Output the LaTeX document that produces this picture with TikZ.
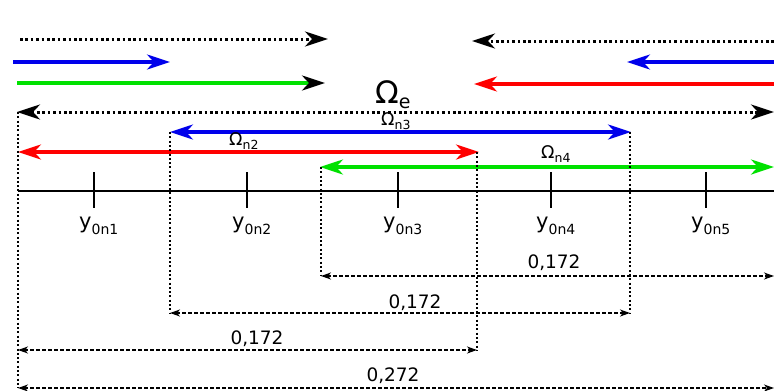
\documentclass[tikz,border=0pt]{standalone}
\usepackage{fontspec}
\setmainfont{DejaVu Sans}
\usetikzlibrary{arrows.meta}
\definecolor{cgreen}{RGB}{0,225,0}
\definecolor{cblue}{RGB}{0,0,235}
\definecolor{cred}{RGB}{255,0,0}
\tikzset{
  bigtip/.tip={Stealth[length=23pt,width=15pt,inset=7pt]},
  smalltip/.tip={Stealth[length=10pt,width=7pt,inset=3pt]},
  dotrow/.style={line width=3pt, dash pattern=on 2.6pt off 2.8pt},
  colrow/.style={line width=3.2pt},
  guide/.style={line width=1.6pt, dash pattern=on 2pt off 2.3pt},
  dimline/.style={line width=1.6pt, dash pattern=on 3.5pt off 2.5pt, {smalltip}-{smalltip}},
  axisline/.style={line width=1.8pt},
  tickmark/.style={line width=2.2pt},
  lbl/.style={inner sep=0pt, anchor=base west},
  dimlbl/.style={inner sep=0pt, anchor=base, font=\fontsize{18.5}{18}\selectfont},
}
\newcommand\bigomega[1]{{\fontsize{31}{31}\selectfont Ω}\raisebox{-5pt}{\fontsize{19}{19}\selectfont #1}}
\newcommand\smallomega[1]{{\fontsize{17.5}{17}\selectfont Ω}\raisebox{-4pt}{\fontsize{12.5}{12}\selectfont #1}}
\newcommand\ylab[1]{{\fontsize{21}{21}\selectfont y}\raisebox{-6pt}{\fontsize{14}{14}\selectfont #1}}
\begin{document}
\begin{tikzpicture}[x=1pt,y=-1pt]
\useasboundingbox (0,0) rectangle (774,391);
\fill[white] (0,0) rectangle (774,391);
% top single arrows
\coordinate (r1a) at (20,39);  \coordinate (r1b) at (328,39);
\coordinate (r1c) at (774,41); \coordinate (r1d) at (472,41);
\coordinate (r2a) at (13,62);  \coordinate (r2b) at (170,62);
\coordinate (r2c) at (774,62); \coordinate (r2d) at (627,62);
\coordinate (r3a) at (17,83);  \coordinate (r3b) at (325,83);
\coordinate (r3c) at (774,84); \coordinate (r3d) at (474,84);
\draw[dotrow,-{bigtip}] (r1a) -- (r1b);
\draw[dotrow,-{bigtip}] (r1c) -- (r1d);
\draw[colrow,cblue,-{bigtip}] (r2a) -- (r2b);
\draw[colrow,cblue,-{bigtip}] (r2c) -- (r2d);
\draw[colrow,cgreen,-{bigtip[color=black]}] (r3a) -- (r3b);
\draw[colrow,cred,-{bigtip}] (r3c) -- (r3d);
% domains
\coordinate (e1) at (17,112);  \coordinate (e2) at (774,112);
\coordinate (n3a) at (170,132); \coordinate (n3b) at (631,132);
\coordinate (n2a) at (18,152);  \coordinate (n2b) at (479,152);
\coordinate (n4a) at (320,167); \coordinate (n4b) at (774,167);
\draw[dotrow,{bigtip}-{bigtip}] (e1) -- (e2);
\draw[colrow,cblue,{bigtip}-{bigtip}] (n3a) -- (n3b);
\draw[colrow,cred,{bigtip}-{bigtip}] (n2a) -- (n2b);
\draw[colrow,cgreen,{bigtip}-{bigtip}] (n4a) -- (n4b);
\node[lbl] (le) at (375,103) {\bigomega{e}};
\node[lbl] (ln3) at (381,125) {\smallomega{n3}};
\node[lbl] (ln2) at (229,145) {\smallomega{n2}};
\node[lbl] (ln4) at (541,158) {\smallomega{n4}};
% axis
\coordinate (ax1) at (18,191); \coordinate (ax2) at (774,191);
\draw[axisline] (ax1) -- (ax2);
\foreach \x/\n in {94/1,247/2,398/3,551/4,706/5}{
  \coordinate (t\n a) at (\x,172);
  \coordinate (t\n b) at (\x,208);
  \draw[tickmark] (t\n a) -- (t\n b);
  \node[lbl] (y\n) at (\x-15,228) {\ylab{0n\n}};
}
% guides
\coordinate (g1a) at (18,112);  \coordinate (g1b) at (18,388);
\coordinate (g2a) at (170,132); \coordinate (g2b) at (170,313);
\coordinate (g3a) at (321,167); \coordinate (g3b) at (321,276);
\coordinate (g4a) at (477,152); \coordinate (g4b) at (477,350);
\coordinate (g5a) at (630,132); \coordinate (g5b) at (630,313);
\draw[guide] (g1a) -- (g1b);
\draw[guide] (g2a) -- (g2b);
\draw[guide] (g3a) -- (g3b);
\draw[guide] (g4a) -- (g4b);
\draw[guide] (g5a) -- (g5b);
% dimensions
\coordinate (d1a) at (321,276); \coordinate (d1b) at (774,276);
\coordinate (d2a) at (170,313); \coordinate (d2b) at (630,313);
\coordinate (d3a) at (18,350);  \coordinate (d3b) at (477,350);
\coordinate (d4a) at (18,388);  \coordinate (d4b) at (774,388);
\draw[dimline] (d1a) -- (d1b);
\draw[dimline] (d2a) -- (d2b);
\draw[dimline] (d3a) -- (d3b);
\draw[dimline] (d4a) -- (d4b);
\node[dimlbl] (v1) at (554,268) {0,172};
\node[dimlbl] (v2) at (415,308) {0,172};
\node[dimlbl] (v3) at (257,344) {0,172};
\node[dimlbl] (v4) at (393,381) {0,272};
\end{tikzpicture}
\end{document}
